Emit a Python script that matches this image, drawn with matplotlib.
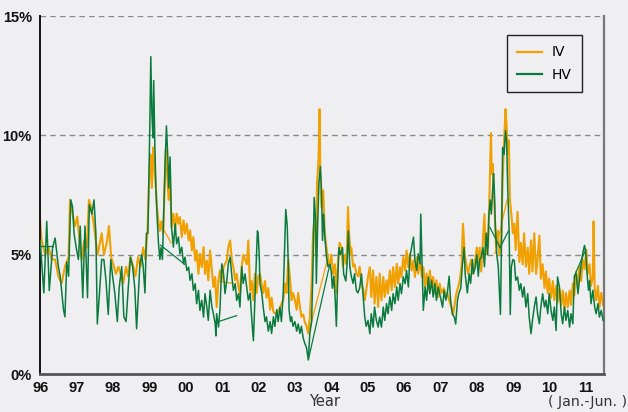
#!/usr/bin/env python3
"""
Implied (IV) vs historical (HV) volatility, 1996 - Jun. 2011.
Values read off the reference chart (in %), decimal years on x
(96 = 1996, 100 = 2000, ...).
"""

import matplotlib
matplotlib.use("Agg")
import matplotlib.pyplot as plt

# ---- data ---------------------------------------------------------------
iv_year = [
    # 1996 - mid 1999
    96.00, 96.04, 96.14, 96.23, 96.32, 96.41, 96.50, 96.59, 96.68, 96.78,
    96.82, 96.89, 96.96, 97.02, 97.08, 97.14, 97.21, 97.28, 97.34, 97.40,
    97.46, 97.53, 97.58, 97.64, 97.69, 97.75, 97.83, 97.89, 97.95, 98.01,
    98.08, 98.15, 98.21, 98.28, 98.36, 98.42, 98.48, 98.56, 98.62, 98.69,
    98.76, 98.83, 98.89, 98.95, 99.00, 99.03, 99.07, 99.11, 99.14, 99.18,
    99.21, 99.25, 99.29, 99.33, 99.38, 99.42, 99.45, 99.49, 99.53, 99.56,
    # mid 1999 - mid 2001
    99.61, 99.66, 99.71, 99.75, 99.80, 99.84, 99.89, 99.94, 99.98, 100.03,
    100.08, 100.12, 100.17, 100.21, 100.26, 100.30, 100.35, 100.39, 100.44, 100.49,
    100.53, 100.58, 100.62, 100.67, 100.72, 100.76, 100.81, 100.85, 100.90, 100.94,
    100.99, 101.04, 101.08, 101.13, 101.17, 101.22, 101.27, 101.31, 101.36, 101.40,
    101.45, 101.49,
    # mid 2001 - 2004
    101.54, 101.58, 101.68, 101.72, 101.77, 101.81, 101.86, 101.90, 101.95, 101.99,
    102.04, 102.13, 102.18, 102.22, 102.27, 102.32, 102.36, 102.41, 102.50,
    102.59, 102.68, 102.73, 102.77, 102.82, 102.86, 102.91, 102.95, 103.00,
    103.05, 103.09, 103.14, 103.18, 103.23, 103.27, 103.32, 103.37, 103.41,
    103.46, 103.50, 103.55, 103.58, 103.61, 103.65, 103.68, 103.70, 103.73,
    103.78, 103.82, 103.87, 103.91, 103.96, 104.00,
    104.05, 104.10, 104.14, 104.19, 104.23, 104.28, 104.32, 104.37, 104.42,
    104.46, 104.49, 104.53, 104.55, 104.60, 104.64, 104.69, 104.74, 104.78,
    104.83, 104.87, 104.92, 104.96,
    # 2005 - 2006
    105.01, 105.06, 105.10, 105.15, 105.19, 105.24, 105.29, 105.33, 105.38, 105.43,
    105.47, 105.52, 105.56, 105.61, 105.66, 105.70, 105.75, 105.80, 105.84, 105.89,
    105.93, 105.98, 106.03, 106.07, 106.12, 106.16, 106.21, 106.26, 106.30, 106.35,
    106.39, 106.44, 106.49, 106.53, 106.58, 106.62, 106.67, 106.71, 106.76, 106.80,
    106.85, 106.89, 106.94, 106.98,
    # 2007 - 2008
    107.03, 107.10, 107.15, 107.19, 107.24, 107.30, 107.35, 107.39, 107.44,
    107.48, 107.53, 107.58, 107.62, 107.67, 107.71, 107.76, 107.80, 107.85,
    107.89, 107.94, 108.00,
    108.04, 108.08, 108.12, 108.17, 108.21, 108.24, 108.28, 108.31, 108.35,
    108.39, 108.41, 108.44, 108.47, 108.50, 108.53, 108.58, 108.62, 108.67,
    108.71, 108.75, 108.79, 108.82, 108.85, 108.88, 108.91, 108.95, 108.99,
    # 2009 - Jun. 2011
    109.03, 109.07, 109.12, 109.17, 109.21, 109.26, 109.30, 109.35, 109.40, 109.44,
    109.49, 109.53, 109.58, 109.63, 109.67, 109.72, 109.76, 109.81, 109.86, 109.90,
    109.95, 109.99, 110.04, 110.09, 110.13, 110.18, 110.22, 110.27, 110.32, 110.36,
    110.41, 110.45, 110.50, 110.55, 110.59, 110.64, 110.68, 110.73, 110.78, 110.82,
    110.87, 110.91, 110.96, 111.01, 111.05, 111.10, 111.14, 111.19, 111.21, 111.24,
    111.28, 111.33, 111.37, 111.42, 111.47,
]
iv_pct = [
    # 1996 - mid 1999
    6.4, 5.6, 5.0, 5.3, 4.8, 4.8, 4.1, 3.8, 4.5, 4.9,
    7.3, 6.7, 6.2, 6.6, 5.6, 4.8, 5.6, 5.3, 7.3, 7.0,
    6.4, 5.6, 5.0, 5.5, 5.9, 5.0, 5.5, 6.2, 4.9, 4.6,
    4.2, 4.5, 4.2, 3.8, 4.5, 4.1, 4.9, 4.5, 4.1, 4.9,
    4.5, 5.3, 4.8, 6.0, 8.4, 9.2, 7.8, 9.5, 8.7, 7.8,
    7.0, 6.4, 6.0, 6.4, 5.9, 7.8, 9.4, 8.4, 7.3, 8.7,
    # mid 1999 - mid 2001
    6.16, 6.72, 6.02, 6.72, 6.30, 6.58, 5.74, 6.44, 5.88, 6.30,
    5.60, 6.02, 5.18, 5.74, 4.76, 5.18, 4.20, 5.04, 4.48, 5.32,
    4.20, 4.76, 3.93, 5.18, 4.34, 3.65, 4.07, 2.81, 3.93, 4.34,
    3.93, 4.48, 4.62, 4.76, 5.32, 5.60, 4.76, 4.48, 3.93, 4.20,
    3.65, 3.37,
    # mid 2001 - 2004
    4.5, 5.0, 4.6, 5.6, 3.5, 3.9, 3.1, 4.2, 3.4, 4.1,
    4.2, 3.4, 3.9, 3.2, 3.6, 2.7, 3.2, 2.6, 2.5,
    2.8, 3.1, 3.8, 3.4, 4.8, 4.1, 3.1, 3.4, 3.1,
    2.7, 3.4, 2.8, 2.4, 2.5, 2.2, 2.0, 1.7, 2.4,
    3.8, 5.9, 6.7, 5.0, 8.0, 9.0, 11.1, 8.4, 7.0,
    7.7, 5.9, 5.3, 4.8, 4.6, 5.0,
    4.2, 4.6, 3.4, 4.8, 5.5, 5.3, 4.5, 5.0, 4.6,
    7.0, 5.9, 5.0, 5.3, 4.5, 4.6, 4.2, 4.1, 4.5,
    3.8, 3.6, 3.1, 3.5,
    # 2005 - 2006
    4.07, 4.48, 3.23, 4.34, 2.95, 4.07, 2.81, 4.21, 3.09, 4.07,
    3.23, 3.93, 3.37, 4.34, 3.51, 4.48, 3.65, 4.62, 3.79, 4.48,
    4.07, 4.90, 4.34, 5.18, 4.48, 5.04, 4.34, 4.76, 4.07, 4.90,
    4.21, 4.76, 4.07, 4.48, 3.65, 4.21, 3.51, 4.34, 3.65, 4.07,
    3.37, 3.93, 3.23, 3.79,
    # 2007 - 2008
    3.4, 3.6, 3.2, 3.4, 3.1, 2.8, 2.5, 2.9, 3.4,
    3.6, 3.9, 4.5, 6.3, 5.0, 4.6, 4.2, 4.5, 4.8,
    4.2, 4.6, 5.3,
    4.6, 5.3, 4.3, 5.6, 6.7, 5.0, 5.9, 5.3, 7.6,
    10.1, 8.4, 8.8, 7.6, 6.4, 5.3, 6.0, 5.0, 5.6,
    8.1, 9.8, 11.1, 10.4, 9.2, 9.8, 7.3, 6.7, 5.9,
    # 2009 - Jun. 2011
    6.3, 5.2, 6.8, 4.7, 5.5, 4.6, 5.9, 4.5, 5.3, 4.2,
    5.6, 4.3, 5.9, 4.2, 4.8, 5.8, 4.0, 4.6, 3.6, 4.3,
    3.4, 4.0, 3.2, 3.9, 3.1, 3.7, 3.0, 3.6, 2.9, 3.5,
    2.7, 3.4, 2.8, 3.5, 2.9, 3.8, 3.3, 4.3, 3.6, 4.5,
    3.9, 4.8, 4.4, 5.2, 4.2, 4.6, 3.7, 4.1, 6.4, 3.6,
    3.1, 3.7, 2.8, 3.4, 2.9,
]

hv_year = [
    # 1996 - mid 1999
    96.00, 96.10, 96.18, 96.25, 96.34, 96.41, 96.50, 96.55, 96.64, 96.68,
    96.73, 96.78, 96.84, 96.89, 96.93, 96.99, 97.05, 97.10, 97.17, 97.23,
    97.30, 97.35, 97.42, 97.48, 97.53, 97.57, 97.63, 97.69, 97.75, 97.81,
    97.87, 97.94, 97.99, 98.05, 98.12, 98.17, 98.24, 98.30, 98.36, 98.42,
    98.48, 98.54, 98.60, 98.65, 98.69, 98.74, 98.79, 98.83, 98.88, 98.92,
    98.96, 98.99, 99.01, 99.04, 99.07, 99.10, 99.12, 99.15, 99.18, 99.21,
    99.25, 99.29, 99.32, 99.36, 99.40, 99.43, 99.47, 99.51, 99.53, 99.57,
    # mid 1999 - mid 2001
    99.61, 99.66, 99.71, 99.75, 99.80, 99.84, 99.89, 99.94, 99.98, 100.03,
    100.08, 100.12, 100.17, 100.21, 100.26, 100.30, 100.35, 100.39, 100.44, 100.49,
    100.53, 100.58, 100.62, 100.67, 100.72, 100.76, 100.81, 100.83, 100.85, 100.90,
    100.94, 100.99, 101.04, 101.08, 101.13, 101.17, 101.22, 101.27, 101.31, 101.36,
    101.40, 101.45, 101.49,
    # mid 2001 - 2004
    101.54, 101.58, 101.63, 101.68, 101.72, 101.77, 101.81, 101.86,
    101.90, 101.95, 101.97, 101.99,
    102.02, 102.04, 102.09, 102.13, 102.18, 102.22, 102.27, 102.32, 102.36,
    102.41, 102.45, 102.50, 102.54, 102.59, 102.63, 102.68, 102.73, 102.75,
    102.79, 102.82, 102.84, 102.88, 102.91, 102.95, 103.00,
    103.05, 103.09, 103.14, 103.18, 103.23, 103.27, 103.32, 103.37, 103.41,
    103.46, 103.50, 103.53, 103.57, 103.59, 103.62, 103.66, 103.70, 103.73,
    103.76, 103.79, 103.83, 103.87, 103.91, 103.96, 104.00,
    104.03, 104.07, 104.11, 104.14, 104.17, 104.21, 104.25, 104.31, 104.34,
    104.40, 104.43, 104.47, 104.51, 104.55, 104.60, 104.64, 104.69, 104.73,
    104.78, 104.83, 104.87, 104.92, 104.96,
    # 2005 - 2006
    105.01, 105.06, 105.10, 105.15, 105.19, 105.24, 105.29, 105.33, 105.38, 105.43,
    105.47, 105.52, 105.56, 105.61, 105.66, 105.70, 105.75, 105.80, 105.84, 105.89,
    105.93, 105.98, 106.03, 106.07, 106.12, 106.16, 106.21, 106.26, 106.30, 106.35,
    106.39, 106.44, 106.46, 106.49, 106.53, 106.58, 106.62, 106.67, 106.71, 106.76,
    106.80, 106.85, 106.89, 106.94, 106.98,
    # 2007 - 2008
    107.06, 107.10, 107.15, 107.19, 107.24, 107.28, 107.33, 107.38, 107.42,
    107.47, 107.51, 107.56, 107.60, 107.65, 107.68, 107.74, 107.79, 107.83,
    107.88, 107.91, 107.96, 108.00,
    108.04, 108.08, 108.12, 108.17, 108.21, 108.26, 108.30, 108.33, 108.37,
    108.40, 108.46, 108.48, 108.51, 108.55, 108.59, 108.62, 108.65, 108.68,
    108.71, 108.75, 108.79, 108.82, 108.85, 108.89, 108.92, 108.95, 108.99,
    # 2009 - Jun. 2011
    109.03, 109.07, 109.12, 109.17, 109.21, 109.26, 109.30, 109.35, 109.40, 109.44,
    109.49, 109.53, 109.58, 109.63, 109.67, 109.72, 109.76, 109.81, 109.86, 109.90,
    109.95, 109.99, 110.04, 110.09, 110.13, 110.18, 110.22, 110.27, 110.32, 110.36,
    110.41, 110.45, 110.50, 110.55, 110.59, 110.64, 110.68, 110.73, 110.78, 110.82,
    110.87, 110.91, 110.96, 110.99, 111.03, 111.07, 111.10, 111.14, 111.19, 111.24,
    111.28, 111.33, 111.37, 111.42, 111.47,
]
hv_pct = [
    # 1996 - mid 1999
    5.6, 3.4, 6.4, 3.5, 5.3, 5.7, 4.5, 4.1, 2.7, 2.4,
    4.7, 4.1, 7.3, 7.0, 5.9, 5.3, 4.8, 6.2, 3.2, 6.2,
    3.2, 7.1, 6.7, 7.3, 5.9, 2.1, 3.4, 4.8, 4.8, 3.9,
    2.5, 4.8, 4.1, 3.4, 2.2, 3.6, 4.5, 2.4, 2.2, 3.6,
    4.9, 4.5, 3.6, 1.9, 3.1, 4.6, 5.0, 4.5, 3.4, 5.9,
    5.9, 8.4, 10.1, 13.3, 10.9, 9.9, 12.3, 9.7, 7.8, 6.7,
    5.5, 4.8, 5.3, 4.8, 7.0, 8.7, 10.4, 9.0, 7.8, 9.1,
    # mid 1999 - mid 2001
    6.16, 5.32, 6.30, 5.46, 5.74, 5.04, 5.32, 4.62, 4.90, 4.34,
    4.48, 3.93, 4.20, 3.51, 3.79, 2.95, 3.51, 2.67, 3.09, 2.39,
    3.37, 2.81, 2.25, 3.51, 2.81, 2.53, 2.11, 1.60, 2.53, 1.97,
    2.67, 4.62, 4.20, 3.37, 3.93, 4.62, 4.90, 4.07, 3.51, 3.79,
    3.09, 3.37, 2.81,
    # mid 2001 - 2004
    4.5, 3.8, 4.2, 3.6, 3.1, 3.4, 2.4, 1.4,
    3.1, 5.3, 6.0, 5.9,
    5.0, 3.8, 3.4, 2.8, 2.2, 2.4, 1.8, 2.2, 1.7,
    2.4, 2.0, 2.7, 2.2, 2.8, 2.2, 3.4, 6.0, 6.9,
    6.2, 4.5, 2.7, 2.2, 2.4, 2.0, 2.2,
    1.8, 2.1, 1.7, 2.0, 1.5, 1.3, 1.1, 0.6, 1.7,
    2.2, 4.6, 7.4, 6.5, 3.8, 5.9, 8.0, 8.7, 7.8,
    5.6, 6.7, 5.6, 4.9, 4.5, 4.6, 4.3,
    3.6, 4.1, 3.1, 2.0, 3.6, 5.3, 5.0, 5.3, 4.2,
    3.9, 4.5, 6.0, 4.5, 4.1, 3.8, 4.2, 3.5, 3.4,
    3.6, 4.2, 3.4, 2.4, 2.0,
    # 2005 - 2006
    2.25, 1.69, 2.53, 1.97, 2.81, 2.25, 1.97, 2.39, 1.97, 2.81,
    2.25, 2.95, 2.53, 3.23, 2.67, 3.37, 2.95, 3.65, 3.09, 3.79,
    3.37, 4.07, 3.79, 4.34, 3.65, 4.90, 5.32, 5.74, 4.76, 4.34,
    5.04, 4.62, 6.70, 5.04, 2.67, 3.65, 3.09, 4.07, 3.37, 3.93,
    3.23, 3.79, 3.09, 3.65, 3.37,
    # 2007 - 2008
    2.8, 3.5, 3.1, 3.4, 4.1, 3.1, 2.5, 2.4, 2.1,
    3.1, 3.4, 3.6, 4.5, 5.3, 4.2, 3.4, 4.2, 3.8,
    4.8, 4.2, 4.5, 5.0,
    4.1, 4.8, 4.9, 5.3, 4.5, 5.9, 5.0, 6.6, 7.3,
    6.7, 8.4, 7.8, 6.2, 5.0, 4.5, 3.5, 2.5, 5.6,
    9.5, 9.2, 10.2, 9.7, 7.8, 5.9, 2.5, 4.5, 4.8,
    # 2009 - Jun. 2011
    4.76, 3.93, 4.07, 3.51, 3.79, 3.23, 3.65, 2.81, 3.37, 2.39,
    1.69, 2.25, 2.81, 3.23, 2.53, 2.11, 2.81, 3.37, 2.81, 3.09,
    2.53, 3.37, 2.67, 2.25, 2.81, 1.83, 4.07, 3.65, 2.53, 2.11,
    2.81, 2.25, 2.67, 1.97, 2.53, 2.11, 4.07, 4.21, 3.37, 3.93,
    4.62, 5.04, 5.39, 5.18, 4.21, 3.51, 3.93, 2.95, 3.51, 2.81,
    2.53, 2.95, 2.39, 2.67, 2.25,
]

# straight jumps in the source data (out-of-order rows), start -> end
iv_jump_year = [(99.30, 99.60), (100.88, 101.30), (103.41, 103.93), (108.50, 108.83)]
iv_jump_pct = [(6.3, 5.5), (3.9, 3.8), (1.9, 5.0), (5.05, 7.3)]
hv_jump_year = [(96.00, 96.35), (99.31, 99.97), (100.90, 101.40),
                (103.37, 103.96), (108.36, 108.64), (108.64, 108.87),
                (110.68, 110.99)]
hv_jump_pct = [(5.35, 5.35), (5.4, 4.6), (2.2, 2.45),
               (0.6, 4.6), (6.15, 5.3), (5.3, 6.0),
               (4.1, 5.2)]

year_ticks = list(range(96, 112))
year_labels = ["96", "97", "98", "99", "00", "01", "02", "03",
               "04", "05", "06", "07", "08", "09", "10", "11"]
pct_ticks = [0, 5, 10, 15]
pct_labels = ["0%", "5%", "10%", "15%"]

IV_COLOR = "#f0a000"
HV_COLOR = "#0b7a3e"
BG = "#efeff1"


def main():
    fig = plt.figure(figsize=(6.28, 4.12), dpi=100, facecolor=BG)
    ax = fig.add_axes([0.064, 0.092, 0.898, 0.869], facecolor=BG)

    # dashed reference lines at 5 / 10 / 15 %
    for lvl in (5, 10, 15):
        ax.axhline(lvl, color="#8a8a8a", lw=1.0, ls=(0, (4, 3)), zorder=1)

    ax.plot(iv_year, iv_pct, color=IV_COLOR, lw=1.5, label="IV", zorder=2)
    for xs, ys in zip(iv_jump_year, iv_jump_pct):
        ax.plot(xs, ys, color=IV_COLOR, lw=0.9, zorder=2)
    ax.plot(hv_year, hv_pct, color=HV_COLOR, lw=1.1, label="HV", zorder=3)
    for xs, ys in zip(hv_jump_year, hv_jump_pct):
        ax.plot(xs, ys, color=HV_COLOR, lw=0.9, zorder=3)

    ax.set_xlim(96, 111.5)
    ax.set_ylim(0, 15)

    tick_font = dict(family=["Liberation Sans", "DejaVu Sans"],
                     weight="bold", size=10.5)
    ax.set_xticks(year_ticks)
    ax.set_xticklabels(year_labels, **tick_font)
    ax.set_yticks(pct_ticks)
    ax.set_yticklabels(pct_labels, **tick_font)
    ax.tick_params(axis="both", length=0, colors="#111111")
    ax.tick_params(axis="x", pad=5)
    ax.tick_params(axis="y", pad=6)

    ax.spines["top"].set_visible(False)
    ax.spines["left"].set_color("#111111")
    ax.spines["left"].set_linewidth(1.4)
    ax.spines["bottom"].set_color("#555555")
    ax.spines["bottom"].set_linewidth(2.0)
    ax.spines["right"].set_color("#777777")
    ax.spines["right"].set_linewidth(1.6)

    fig.text(0.516, 0.025, "Year", ha="center", va="center",
             color="#333333", fontsize=10.5, family="DejaVu Sans")
    fig.text(0.999, 0.025, "( Jan.-Jun. )", ha="right", va="center",
             color="#333333", fontsize=10.2, family="DejaVu Sans")

    leg = ax.legend(loc="upper right", bbox_to_anchor=(0.961, 0.947),
                    borderaxespad=0, fancybox=False, framealpha=1.0,
                    facecolor=BG, edgecolor="#222222", handlelength=1.8,
                    fontsize=10, borderpad=0.75, labelspacing=0.6,
                    handletextpad=0.7)
    leg.get_frame().set_linewidth(1.0)
    for line in leg.get_lines():
        line.set_linewidth(1.6)

    fig.savefig("out.png", dpi=100, facecolor=BG)


if __name__ == "__main__":
    main()
